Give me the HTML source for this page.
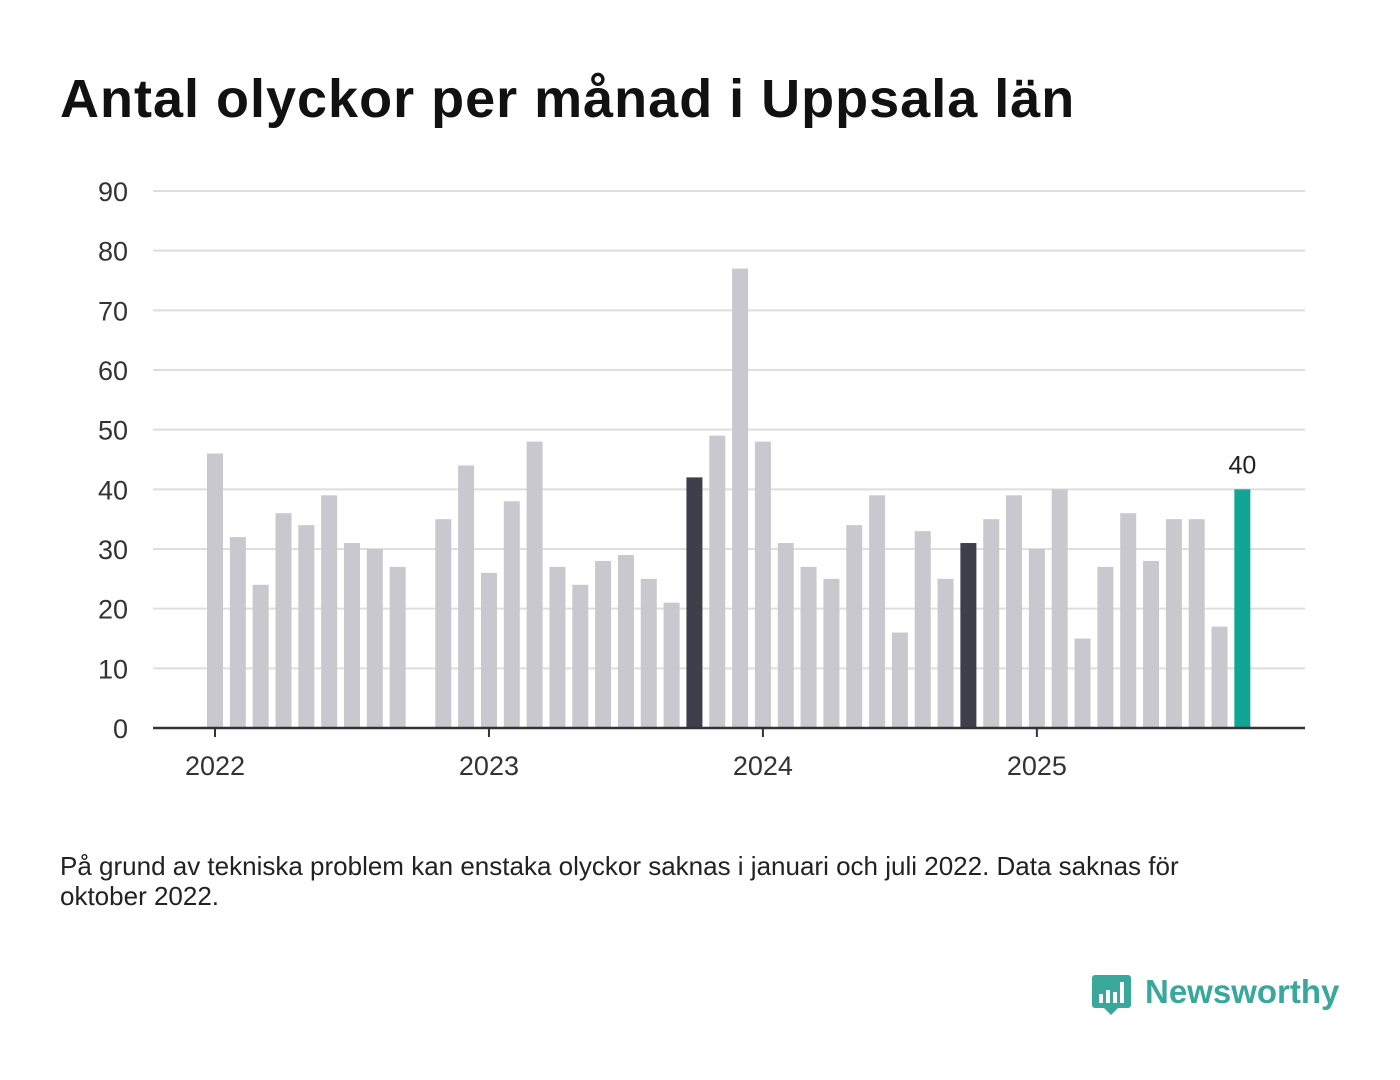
<!DOCTYPE html>
<html><head><meta charset="utf-8">
<style>
body{margin:0;width:1400px;height:1080px;background:#fff;font-family:"Liberation Sans",sans-serif;overflow:hidden;position:relative}
#title{position:absolute;left:60px;top:68px;font-size:54px;font-weight:bold;color:#111;margin:0;letter-spacing:1px;white-space:nowrap}
#note{position:absolute;left:60px;top:851px;font-size:26px;color:#222;line-height:30px;width:1190px}
#logo{position:absolute;left:1090px;top:970px}
</style></head><body>
<h1 id="title">Antal olyckor per månad i Uppsala län</h1>
<svg id="chart" width="1400" height="820" style="position:absolute;left:0;top:0"></svg>
<div id="note">På grund av tekniska problem kan enstaka olyckor saknas i januari och juli 2022. Data saknas för oktober 2022.</div>
<svg id="logo" width="260" height="55">
<path d="M2 5 h36 a3 3 0 0 1 3 3 v27 a3 3 0 0 1 -3 3 h-10 l-7 7 l-7 -7 h-9 a3 3 0 0 1 -3 -3 v-27 a3 3 0 0 1 3 -3z" fill="#3aa79b"/>
<rect x="9" y="24" width="4" height="9" fill="#fff"/><rect x="16" y="20" width="4" height="13" fill="#fff"/><rect x="23" y="22" width="4" height="11" fill="#fff"/><rect x="30" y="12" width="4" height="21" fill="#fff"/>
<text x="55" y="33" font-size="33" font-weight="bold" fill="#3aa79b" font-family="Liberation Sans, sans-serif">Newsworthy</text>
</svg>
<script>
const months=["2022-01","2022-02","2022-03","2022-04","2022-05","2022-06","2022-07","2022-08","2022-09","2022-10","2022-11","2022-12",
"2023-01","2023-02","2023-03","2023-04","2023-05","2023-06","2023-07","2023-08","2023-09","2023-10","2023-11","2023-12",
"2024-01","2024-02","2024-03","2024-04","2024-05","2024-06","2024-07","2024-08","2024-09","2024-10","2024-11","2024-12",
"2025-01","2025-02","2025-03","2025-04","2025-05","2025-06","2025-07","2025-08","2025-09","2025-10"];
const values=[46,32,24,36,34,39,31,30,27,null,35,44,
26,38,48,27,24,28,29,25,21,42,49,77,
48,31,27,25,34,39,16,33,25,31,35,39,
30,40,15,27,36,28,35,35,17,40];
const yTicks=[0,10,20,30,40,50,60,70,80,90];
const xTickLabels=["2022","2023","2024","2025"];
const xTickIdx=[0,12,24,36];
const highlightDark=["2023-10","2024-10"];

const svg=document.getElementById('chart');
const NS="http://www.w3.org/2000/svg";
const y0=728,y90=191,xl=153,xr=1305,x0=215,step=22.83,bw=16;
const yS=v=>y0-(v/90)*(y0-y90);
const xS=i=>x0+i*step;
function mk(t,a){const e=document.createElementNS(NS,t);for(const k in a)e.setAttribute(k,a[k]);svg.appendChild(e);return e;}
yTicks.forEach(v=>{
 if(v>0){const g=mk('line',{x1:xl,x2:xr,y1:yS(v),y2:yS(v),stroke:'#dedede','stroke-width':2});
 
 }
 const t=mk('text',{x:128,y:yS(v)+10,'text-anchor':'end','font-size':27,fill:'#333'});
 t.textContent=v;
 
 
});
values.forEach((v,i)=>{
 if(v==null)return;
 const last=i===values.length-1;
 const col=last?'#12a596':(highlightDark.includes(months[i])?'#3f3e4b':'#c9c8cf');
 const r=mk('rect',{x:xS(i)-bw/2,y:yS(v),width:bw,height:y0-yS(v),fill:col});
 
 
 if(last){const t=mk('text',{x:xS(i),y:yS(v)-16,'text-anchor':'middle','font-size':25,fill:'#222'});t.textContent=v;
 
 }
});
const ax=mk('line',{x1:xl,x2:xr,y1:y0,y2:y0,stroke:'#333','stroke-width':2.5});


xTickIdx.forEach((idx,k)=>{
 const tk=mk('line',{x1:xS(idx),x2:xS(idx),y1:y0,y2:y0+9,stroke:'#333','stroke-width':2});
 
 
 const t=mk('text',{x:xS(idx),y:775,'text-anchor':'middle','font-size':27,fill:'#333'});
 t.textContent=xTickLabels[k];
 
 
});
</script>
</body></html>
